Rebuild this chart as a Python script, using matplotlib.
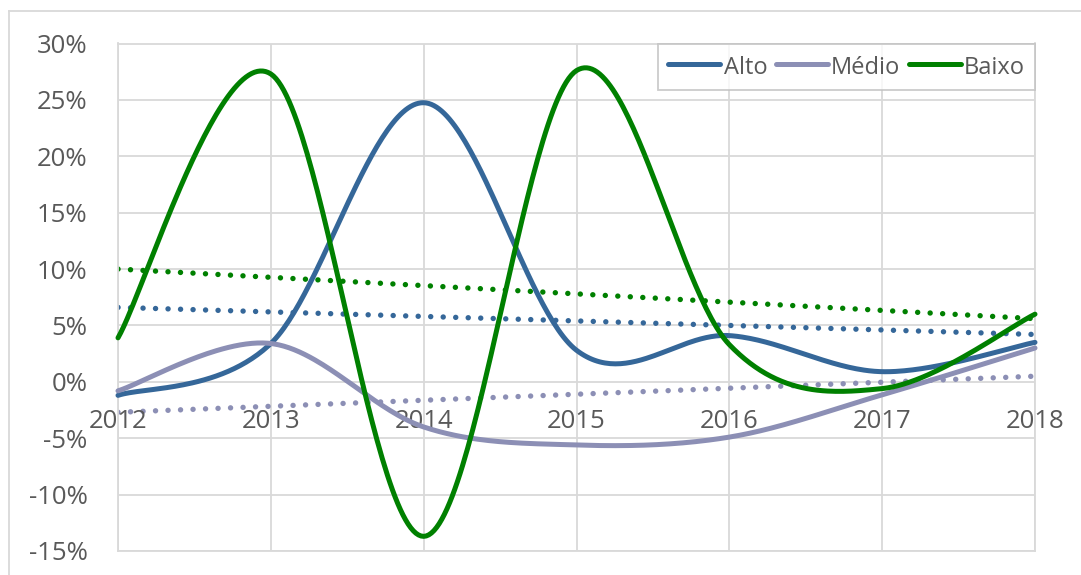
import numpy as np
import matplotlib
matplotlib.use("Agg")
import matplotlib.pyplot as plt
from matplotlib.lines import Line2D

plt.rcParams['font.family'] = ['Open Sans', 'DejaVu Sans']

# ---- data (percent) ----
years = [2012, 2013, 2014, 2015, 2016, 2017, 2018]
alto = [-1.2, 3.4, 24.75, 2.8, 4.1, 0.9, 3.5]
medio = [-0.8, 3.4, -4.0, -5.6, -4.9, -1.15, 3.0]
baixo = [3.9, 27.3, -13.7, 27.6, 3.3, -0.6, 6.0]

# linear trend lines, values at first and last year
trend_years = [2012, 2018]
trend_alto = [6.6, 4.2]
trend_medio = [-2.7, 0.5]
trend_baixo = [10.0, 5.6]

series_names = ['Alto', 'Médio', 'Baixo']
yticks = [-15, -10, -5, 0, 5, 10, 15, 20, 25, 30]

col_alto = '#356799'
col_medio = '#8C8FB5'
col_baixo = '#008000'
grid_col = '#D9D9D9'
text_col = '#595959'


def smooth(xs, ys, n=60):
    """Bezier smoothing through every point (tangents from neighbours)."""
    p = np.column_stack([np.asarray(xs, float), np.asarray(ys, float)])
    m = len(p)
    ext = np.vstack([p[0], p, p[-1]])
    tang = (ext[2:] - ext[:-2]) / 2.0
    out = []
    t = np.linspace(0, 1, n)[:, None]
    for i in range(m - 1):
        b0 = p[i]
        b1 = p[i] + tang[i] / 3.0
        b2 = p[i + 1] - tang[i + 1] / 3.0
        b3 = p[i + 1]
        seg = ((1 - t) ** 3) * b0 + 3 * ((1 - t) ** 2) * t * b1 \
            + 3 * (1 - t) * t ** 2 * b2 + t ** 3 * b3
        out.append(seg if i == 0 else seg[1:])
    c = np.vstack(out)
    return c[:, 0], c[:, 1]


W, H = 1081, 575
fig = plt.figure(figsize=(W / 100, H / 100), dpi=100)

# outer chart frame
fig.add_artist(Line2D([9 / W, 1.0], [1 - 11 / H] * 2, color='#D9D9D9', lw=1.3))
fig.add_artist(Line2D([9 / W] * 2, [0, 1 - 11 / H], color='#D9D9D9', lw=1.3))

left, right, top, bottom = 118, 1035, 43.5, 551
ax = fig.add_axes([left / W, 1 - bottom / H, (right - left) / W, (bottom - top) / H])
ax.set_xlim(years[0], years[-1])
ax.set_ylim(yticks[0], yticks[-1])

for s in ax.spines.values():
    s.set_color(grid_col)
    s.set_linewidth(1.3)
ax.set_yticks(yticks)
ax.set_yticklabels([f"{v}%" for v in yticks])
ax.set_xticks(years)
ax.set_xticklabels([])
ax.tick_params(axis='both', length=0)
ax.tick_params(axis='y', pad=22, labelsize=18.5, labelcolor=text_col)
ax.grid(True, color=grid_col, lw=1.3)
ax.set_axisbelow(True)

# category labels sit just under the zero line
for yr in years:
    ax.annotate(str(yr), xy=(yr, 0), xytext=(0, -40), textcoords='offset pixels',
                ha='center', va='center', fontsize=18.5, color=text_col,
                annotation_clip=False)

lw = 3.6
dots = (0, (0.01, 2.3))
for vals, tr, col in [(alto, trend_alto, col_alto),
                      (medio, trend_medio, col_medio),
                      (baixo, trend_baixo, col_baixo)]:
    ax.plot(trend_years, tr, color=col, lw=3.9, linestyle=dots,
            dash_capstyle='round', zorder=2)

handles = []
for vals, col, name in [(alto, col_alto, 'Alto'),
                        (medio, col_medio, 'Médio'),
                        (baixo, col_baixo, 'Baixo')]:
    sx, sy = smooth(years, vals)
    h, = ax.plot(sx, sy, color=col, lw=lw, solid_capstyle='round', label=name,
                 zorder=3, clip_on=False)
    handles.append(h)

leg = ax.legend(handles=handles, loc='upper right', bbox_to_anchor=(1.0, 1.0),
                ncol=3, fontsize=17, frameon=True, fancybox=False,
                handlelength=2.2, handleheight=1.3, handletextpad=0.15,
                columnspacing=0.35, borderpad=0.42, borderaxespad=0.0)
leg.get_frame().set_edgecolor('#BFBFBF')
leg.get_frame().set_linewidth(1.3)
for t in leg.get_texts():
    t.set_color(text_col)

fig.savefig('out.png', dpi=100)
